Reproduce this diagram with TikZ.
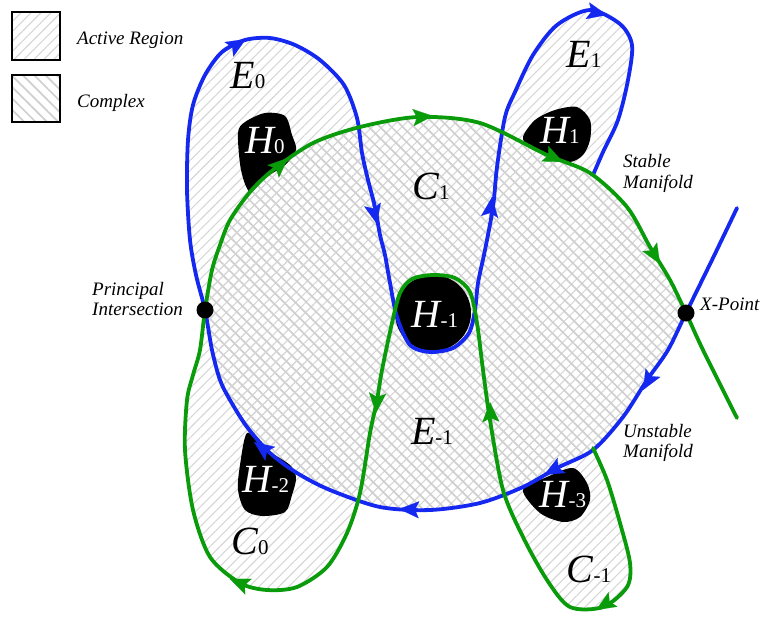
\documentclass[tikz,border=0pt]{standalone}
\usepackage{fontspec}
\setmainfont{Liberation Serif}
\usetikzlibrary{patterns.meta,arrows.meta}
\definecolor{myblue}{RGB}{20,40,240}
\definecolor{mygreen}{RGB}{10,155,10}
\newcommand\biglab[2]{{\fontsize{40}{40}\selectfont\itshape #1}{\fontsize{21}{21}\selectfont #2}}
\tikzset{
  activefill/.style={pattern={Lines[angle=45,distance=7pt,line width=1.1pt]},pattern color=black!16},
  complexfill/.style={pattern={Lines[angle=-45,distance=8pt,line width=1.7pt]},pattern color=black!19},
  bluecurve/.style={draw=myblue,line width=3.8pt,line join=round,line cap=round},
  greencurve/.style={draw=mygreen,line width=3.8pt,line join=round,line cap=round},
  holeshape/.style={fill=black},
  bluetip/.style={draw=myblue,fill=myblue,line width=0.1pt,-{Stealth[length=20pt,width=17pt,inset=4pt]}},
  greentip/.style={draw=mygreen,fill=mygreen,line width=0.1pt,-{Stealth[length=20pt,width=17pt,inset=4pt]}},
  biglabel/.style={inner sep=0pt},
  holelabel/.style={inner sep=0pt,text=white},
  smalllabel/.style={inner sep=0pt,font=\fontsize{19}{21}\selectfont\itshape},
  dotnode/.style={circle,fill=black,minimum size=17pt,inner sep=0pt},
  legendbox/.style={draw=black,line width=1.2pt}
}
\begin{document}
\begin{tikzpicture}[x=1pt,y=-1pt]
\useasboundingbox (0,0) rectangle (765,618);

% ---- hatched regions ----
% central region (active + complex)
\path[activefill] plot[smooth] coordinates {(205,310) (212,270) (220,245) (230,220) (250,192) (273,170) (313,143) (360,127) (418,117) (480,123) (547,155) (590,173) (627,207) (650,247) (670,280) (686,313)}
  -- plot[smooth] coordinates {(686,313) (668,350) (647,380) (623,417) (593,450) (557,468) (523,487) (480,503) (430,510) (380,507) (330,490) (297,473) (270,453) (247,427) (230,400) (220,380) (212,350) (205,310)} -- cycle;
\path[complexfill] plot[smooth] coordinates {(205,310) (212,270) (220,245) (230,220) (250,192) (273,170) (313,143) (360,127) (418,117) (480,123) (547,155) (590,173) (627,207) (650,247) (670,280) (686,313)}
  -- plot[smooth] coordinates {(686,313) (668,350) (647,380) (623,417) (593,450) (557,468) (523,487) (480,503) (430,510) (380,507) (330,490) (297,473) (270,453) (247,427) (230,400) (220,380) (212,350) (205,310)} -- cycle;
% E0 lobe
\path[activefill] plot[smooth] coordinates {(205,310) (196,275) (190,240) (187,190) (188,140) (193,105) (205,75) (222,52) (245,40) (270,38) (295,45) (320,60) (344,85) (357,118) (362,153) (368,180) (375,207) (380,235)} -- cycle;
% E1 lobe
\path[activefill] plot[smooth] coordinates {(485,250) (493,207) (497,167) (505,117) (515,92) (533,55) (557,25) (590,10) (620,24) (632,45) (628,80) (618,120) (603,152) (593,175)} -- cycle;
% C0 lobe
\path[activefill] plot[smooth] coordinates {(377,400) (370,433) (360,493) (347,533) (327,567) (297,587) (267,590) (240,583) (210,557) (193,510) (185,450) (187,400) (193,375) (200,350) (205,310)} -- cycle;
% C-1 lobe
\path[activefill] plot[smooth] coordinates {(593,448) (607,480) (620,523) (630,563) (627,587) (603,607) (570,607) (547,580) (523,537) (503,490) (490,420)} -- cycle;

% ---- holes ----
\fill[holeshape] plot[smooth cycle] coordinates {(238,133) (245,122) (265,113) (285,116) (292,135) (296,150) (285,165) (265,178) (250,192) (241,170)};
\fill[holeshape] plot[smooth cycle] coordinates {(523,137) (535,120) (555,110) (577,107) (590,120) (590,140) (583,155) (570,162) (550,157) (530,148)};
\fill[holeshape] (433,313) ellipse [x radius=38, y radius=38];
\fill[holeshape] plot[smooth cycle] coordinates {(247,433) (262,447) (290,465) (296,478) (292,495) (285,512) (262,516) (245,510) (238,490) (240,465)};
\fill[holeshape] plot[smooth cycle] coordinates {(523,490) (547,477) (573,468) (587,483) (590,500) (580,517) (563,522) (540,513)};

% ---- manifolds ----
\draw[bluecurve] plot[smooth] coordinates {(737,208) (712,260) (686,313) (668,350) (647,380) (623,417) (593,450) (557,468) (523,487) (480,503) (430,510) (380,507) (330,490) (297,473) (270,453) (247,427) (230,400) (220,380) (212,350) (205,310) (196,275) (190,240) (187,190) (188,140) (193,105) (205,75) (222,52) (245,40) (270,38) (295,45) (320,60) (344,85) (357,118) (362,153) (368,180) (375,207) (380,235) (385,255) (390,283) (397,317) (410,345) (430,352) (453,348) (469,333) (475,310) (478,283) (485,250) (493,207) (497,167) (505,117) (515,92) (533,55) (557,25) (590,10) (620,24) (632,45) (628,80) (618,120) (603,152) (593,175)};
\draw[greencurve] plot[smooth] coordinates {(593,448) (607,480) (620,523) (630,563) (627,587) (603,607) (570,607) (547,580) (523,537) (503,490) (490,420) (483,370) (477,323) (470,292) (455,278) (433,275) (412,279) (400,293) (392,323) (382,370) (377,400) (370,433) (360,493) (347,533) (327,567) (297,587) (267,590) (240,583) (210,557) (193,510) (185,450) (187,400) (193,375) (200,350) (205,310) (212,270) (220,245) (230,220) (250,192) (273,170) (313,143) (360,127) (418,117) (480,123) (547,155) (590,173) (627,207) (650,247) (670,280) (686,313) (703,350) (737,418)};

% ---- arrowheads ----
\draw[bluetip] (223,53) -- (246,39);
\draw[bluetip] (371,198) -- (377,224);
\draw[bluetip] (489,222) -- (492,197);
\draw[bluetip] (584,10) -- (607,15);
\draw[bluetip] (658,364) -- (643,390);
\draw[bluetip] (568,462) -- (544,475);
\draw[bluetip] (424,510) -- (399,509);
\draw[bluetip] (276,458) -- (254,442);
\draw[greentip] (266,178) -- (288,158);
\draw[greentip] (408,118) -- (433,116);
\draw[greentip] (539,151) -- (563,162);
\draw[greentip] (645,239) -- (660,264);
\draw[greentip] (378,388) -- (376,413);
\draw[greentip] (491,426) -- (490,402);
\draw[greentip] (254,589) -- (230,579);
\draw[greentip] (617,597) -- (596,610);

% ---- intersection points ----
\node[dotnode] (pint) at (205,310) {};
\node[dotnode] (xpt) at (686,313) {};

% ---- region labels ----
\node[biglabel] (le0) at (248,76) {\biglab{E}{0}};
\node[biglabel] (le1) at (584,54) {\biglab{E}{1}};
\node[biglabel] (lc1) at (431,186) {\biglab{C}{1}};
\node[biglabel] (lem1) at (432,431) {\biglab{E}{-1}};
\node[biglabel] (lc0) at (250,541) {\biglab{C}{0}};
\node[biglabel] (lcm1) at (589,569) {\biglab{C}{-1}};
\node[holelabel] (lh0) at (265,141) {\biglab{H}{0}};
\node[holelabel] (lh1) at (560,130) {\biglab{H}{1}};
\node[holelabel] (lhm1) at (435,314) {\biglab{H}{-1}};
\node[holelabel] (lhm2) at (266,479) {\biglab{H}{-2}};
\node[holelabel] (lhm3) at (563,494) {\biglab{H}{-3}};

% ---- legend ----
\draw[legendbox,activefill] (12,12) rectangle (60,60);
\draw[legendbox,complexfill] (12,75) rectangle (60,122);
\node[smalllabel,anchor=base west] (lact) at (77,45) {Active Region};
\node[smalllabel,anchor=base west] (lcom) at (77,107) {Complex};

% ---- annotations ----
\node[smalllabel,anchor=base west] (lp1) at (92,295) {Principal};
\node[smalllabel,anchor=base west] (lp2) at (92,315) {Intersection};
\node[smalllabel,anchor=base west] (lxp) at (700,310) {X-Point};
\node[smalllabel,anchor=base west] (ls1) at (623,167) {Stable};
\node[smalllabel,anchor=base west] (ls2) at (623,188) {Manifold};
\node[smalllabel,anchor=base west] (lu1) at (623,437) {Unstable};
\node[smalllabel,anchor=base west] (lu2) at (623,457) {Manifold};
\end{tikzpicture}
\end{document}
